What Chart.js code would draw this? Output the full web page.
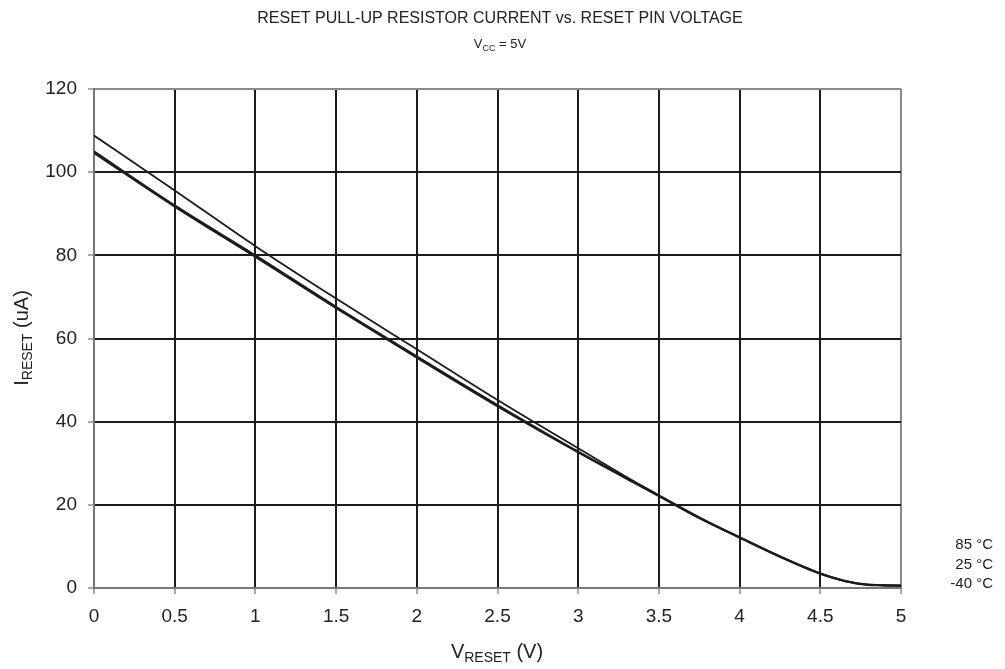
<!DOCTYPE html>
<html>
<head>
<meta charset="utf-8">
<script src="https://cdn.jsdelivr.net/npm/chart.js@4.4.1/dist/chart.umd.min.js"></script>
<style>
  html, body { margin: 0; padding: 0; background: #fff; }
  #wrap { width: 1005px; height: 669px; position: relative; }
</style>
</head>
<body>
<div id="wrap"><canvas id="chart"></canvas></div>
<script>
// data
var vReset = [0, 0.5, 1, 1.5, 2, 2.5, 3, 3.5, 3.75, 4, 4.25, 4.5, 4.625, 4.75, 4.875, 5];
var i85 = [108.8, 95.6, 82.2, 69.6, 57.4, 45.2, 33.6, 22.2, 16.9, 12.2, 7.6, 3.5, 2.0, 1.0, 0.7, 0.6];
var i25 = [105.0, 92.0, 80.0, 67.6, 55.7, 44.0, 32.8, 22.3, 17.0, 12.2, 7.6, 3.5, 2.0, 1.0, 0.7, 0.6];
var iM40 = [104.6, 91.7, 79.6, 67.3, 55.4, 43.7, 32.6, 22.1, 16.8, 12.1, 7.5, 3.4, 1.9, 0.9, 0.6, 0.5];
var xTicks = [0, 0.5, 1, 1.5, 2, 2.5, 3, 3.5, 4, 4.5, 5];
var yTicks = [0, 20, 40, 60, 80, 100, 120];
var seriesNames = ['85 °C', '25 °C', '-40 °C'];

var FONT = 'Liberation Sans, Arial, sans-serif';
var INK = '#1c1c1c';

function pts(ys) {
  return vReset.map(function (x, i) { return { x: x, y: ys[i] }; });
}

// text with a subscript part: [main, sub, rest]
function subText(ctx, parts, x, y, size, align) {
  var subSize = Math.round(size * 0.68);
  ctx.font = size + 'px ' + FONT;
  var w1 = ctx.measureText(parts[0]).width;
  var w3 = ctx.measureText(parts[2]).width;
  ctx.font = subSize + 'px ' + FONT;
  var w2 = ctx.measureText(parts[1]).width;
  var total = w1 + w2 + w3;
  var sx = align === 'center' ? x - total / 2 : x;
  ctx.textAlign = 'left';
  ctx.textBaseline = 'alphabetic';
  ctx.font = size + 'px ' + FONT;
  ctx.fillText(parts[0], sx, y);
  ctx.font = subSize + 'px ' + FONT;
  ctx.fillText(parts[1], sx + w1, y + size * 0.2);
  ctx.font = size + 'px ' + FONT;
  ctx.fillText(parts[2], sx + w1 + w2, y);
}

var labelsPlugin = {
  id: 'labels',
  afterDraw: function (chart) {
    var ctx = chart.ctx;
    ctx.save();
    ctx.fillStyle = '#222';
    ctx.font = '16px ' + FONT;
    ctx.textAlign = 'center';
    ctx.textBaseline = 'alphabetic';
    ctx.fillText('RESET PULL-UP RESISTOR CURRENT vs. RESET PIN VOLTAGE', 500, 23);
    subText(ctx, ['V', 'CC', ' = 5V'], 500, 48, 13, 'center');

    // axis titles
    subText(ctx, ['V', 'RESET', ' (V)'], 497, 658, 20, 'center');
    ctx.save();
    ctx.translate(28, 338);
    ctx.rotate(-Math.PI / 2);
    subText(ctx, ['I', 'RESET', ' (uA)'], 0, 0, 20, 'center');
    ctx.restore();

    // series labels at right
    ctx.font = '15px ' + FONT;
    ctx.textAlign = 'right';
    ctx.textBaseline = 'middle';
    seriesNames.forEach(function (n, i) {
      ctx.fillText(n, 993, 545 + i * 19.5);
    });
    ctx.restore();
  }
};

function gridColor(c) {
  if (c.tick && (c.index === 0 || c.index === c.scale.ticks.length - 1)) return '#8a8a8a';
  return INK;
}

function plain(v) { return String(v); }

new Chart(document.getElementById('chart'), {
  type: 'line',
  data: {
    datasets: [
      { label: seriesNames[0], data: pts(i85), borderColor: INK, borderWidth: 1.8 },
      { label: seriesNames[1], data: pts(i25), borderColor: INK, borderWidth: 2 },
      { label: seriesNames[2], data: pts(iM40), borderColor: INK, borderWidth: 2 }
    ]
  },
  options: {
    responsive: true,
    maintainAspectRatio: false,
    animation: false,
    events: [],
    elements: {
      point: { radius: 0 },
      line: { cubicInterpolationMode: 'monotone', fill: false }
    },
    layout: { padding: { left: 0, right: 104, top: 89, bottom: 0 } },
    plugins: { legend: { display: false }, tooltip: { enabled: false }, title: { display: false } },
    scales: {
      x: {
        type: 'linear',
        min: 0, max: 5,
        afterBuildTicks: function (s) { s.ticks = xTicks.map(function (v) { return { value: v }; }); },
        afterFit: function (s) { s.height = 81; },
        ticks: { color: '#222', font: { size: 19, family: FONT }, padding: 11, maxRotation: 0, callback: plain },
        grid: { color: gridColor, lineWidth: 2, tickLength: 6, tickColor: '#555', tickWidth: 1 },
        border: { color: '#777', width: 2 }
      },
      y: {
        min: 0, max: 120,
        afterBuildTicks: function (s) { s.ticks = yTicks.map(function (v) { return { value: v }; }); },
        afterFit: function (s) { s.width = 94; },
        ticks: { color: '#222', font: { size: 19, family: FONT }, padding: 11, callback: plain },
        grid: { color: gridColor, lineWidth: 2, tickLength: 6, tickColor: '#555', tickWidth: 1 },
        border: { color: '#777', width: 2 }
      }
    }
  },
  plugins: [labelsPlugin]
});
</script>
</body>
</html>
